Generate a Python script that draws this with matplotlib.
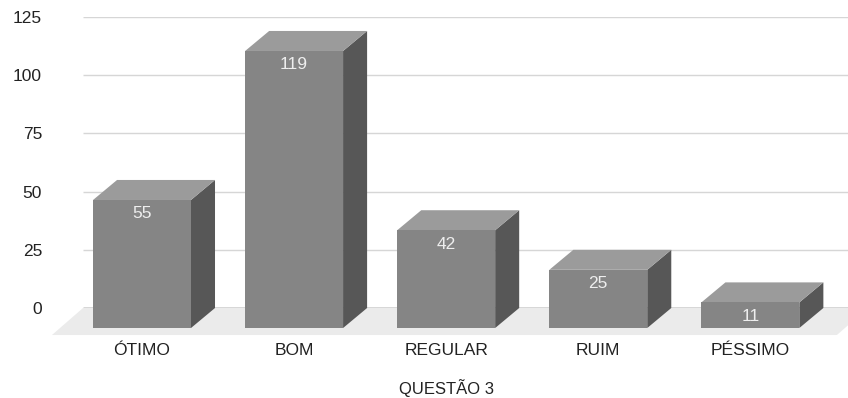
import matplotlib
matplotlib.use("Agg")
import matplotlib.pyplot as plt
from matplotlib.patches import Polygon

plt.rcParams["font.family"] = ["Liberation Sans", "DejaVu Sans"]

categorias = ["ÓTIMO", "BOM", "REGULAR", "RUIM", "PÉSSIMO"]
respostas = [55, 119, 42, 25, 11]
yticks = [0, 25, 50, 75, 100, 125]
titulo_x = "QUESTÃO 3"

# 3D look: bar width and depth offset (x in category units, y in value units)
largura = 0.644
prof_x = 0.158
prof_y = 8.6

cor_frente = "#858585"
cor_topo = "#9b9b9b"
cor_lado = "#575757"

fig = plt.figure(figsize=(8.48, 3.98), dpi=100)
ax = fig.add_axes([83 / 848, 90 / 398, 765 / 848, 291 / 398])
ax.set_xlim(-0.388, 4.642)
ax.set_ylim(0, 125)
for s in ax.spines.values():
    s.set_visible(False)

# floor
chao = Polygon([(-0.592, -11.6), (4.569, -11.6), (4.773, 0), (-0.388, 0)],
               closed=True, facecolor="#ebebeb", edgecolor="none",
               clip_on=False, zorder=0.5)
ax.add_patch(chao)

# gridlines and baseline
ax.hlines(yticks[1:], -0.388, 4.642, colors="#d6d6d6", linewidth=1, zorder=1)
ax.hlines(0, -0.388, 4.642, colors="#333333", linewidth=1, zorder=1.5)

for i, v in enumerate(respostas):
    x0 = i - largura / 2
    x1 = i + largura / 2
    frente = [(x0, -prof_y), (x1, -prof_y), (x1, v - prof_y), (x0, v - prof_y)]
    topo = [(x0, v - prof_y), (x1, v - prof_y), (x1 + prof_x, v), (x0 + prof_x, v)]
    lado = [(x1, -prof_y), (x1 + prof_x, 0), (x1 + prof_x, v), (x1, v - prof_y)]
    for pts, cor in [(lado, cor_lado), (topo, cor_topo), (frente, cor_frente)]:
        ax.add_patch(Polygon(pts, closed=True, facecolor=cor, edgecolor="none",
                             clip_on=False, zorder=2))
    ax.annotate(str(v), (i, v - prof_y), xytext=(0, -10), textcoords="offset points",
                ha="center", va="center", color="#eeeeee", fontsize=12.5,
                annotation_clip=False, zorder=3)

ax.set_yticks(yticks)
ax.set_yticklabels([str(t) for t in yticks])
ax.set_xticks(range(len(categorias)))
ax.set_xticklabels(categorias)
ax.tick_params(axis="y", length=0, pad=29.5, labelsize=12.5, labelcolor="#222222")
ax.tick_params(axis="x", length=0, pad=25, labelsize=12.5, labelcolor="#222222")
ax.set_xlabel(titulo_x, fontsize=12, color="#222222")
ax.xaxis.set_label_coords(0.4748, -0.245)

fig.savefig("out.png", dpi=100)
